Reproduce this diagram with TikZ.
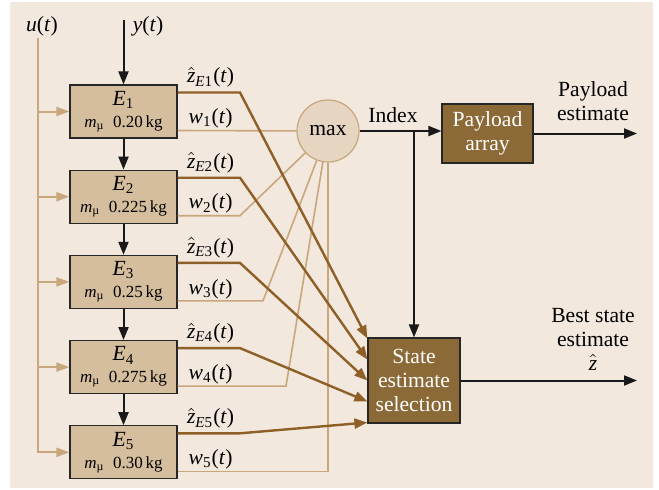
\documentclass[tikz,border=0pt]{standalone}
\usepackage{fontspec}
\setmainfont{Liberation Serif}
\usetikzlibrary{
  arrows.meta,
  positioning,
  calc
}
\definecolor{bgbeige}{HTML}{F2E8DE}
\definecolor{tanfill}{HTML}{D5BE9D}
\definecolor{darkfill}{HTML}{8C6A38}
\definecolor{brownline}{HTML}{8E5F26}
\definecolor{lightline}{HTML}{C9A77D}
\definecolor{maxfill}{HTML}{E6D5C0}
\tikzset{
  estbox/.style={draw=black!85, line width=0.6pt, fill=tanfill,
    minimum width=53.5pt, minimum height=26.5pt,
    inner sep=1pt, align=center},
  darkbox/.style={draw=black!85, line width=0.6pt, fill=darkfill,
    text=white, inner sep=1pt, align=center},
  maxnode/.style={circle, draw=lightline, line width=0.6pt, fill=maxfill,
    minimum size=31pt, inner sep=0pt},
  arr/.style={-{Triangle[length=6.5pt,width=5pt]}, line width=1pt, black!90},
  zarr/.style={-{Triangle[length=6.5pt,width=5pt]}, line width=1.2pt, brownline},
  uarr/.style={-{Triangle[length=6.5pt,width=4.5pt]}, line width=1pt, lightline},
  wline/.style={line width=0.8pt, lightline},
  lbl/.style={inner sep=0pt},
}
\newcommand{\mi}[1]{\textit{#1}}
\newcommand{\mmu}[1]{{\fontsize{8.5}{10}\selectfont \mi{m}\textsubscript{µ}\ \ #1\,kg}}

\begin{document}
\begin{tikzpicture}[x=0.5pt,y=-0.5pt, font=\fontsize{10.8}{12}\selectfont]
  % Background
  \fill[bgbeige] (10,2) rectangle (653,488);
  \useasboundingbox (0,0) rectangle (659,489);

  % Estimator bank
  \node[estbox] (E1) at (123.5,111.5) {\mi{E}\textsubscript{1}\\[-1pt] \mmu{0.20}};
  \node[estbox, below=15.5pt of E1] (E2) {\mi{E}\textsubscript{2}\\[-1pt] \mmu{0.225}};
  \node[estbox, below=15.5pt of E2] (E3) {\mi{E}\textsubscript{3}\\[-1pt] \mmu{0.25}};
  \node[estbox, below=15.5pt of E3] (E4) {\mi{E}\textsubscript{4}\\[-1pt] \mmu{0.275}};
  \node[estbox, below=15.5pt of E4] (E5) {\mi{E}\textsubscript{5}\\[-1pt] \mmu{0.30}};

  \foreach \a/\b in {E1/E2,E2/E3,E3/E4,E4/E5}
    \draw[arr] (\a) -- (\b);

  % Inputs
  \coordinate (ytop) at (123.5,20);
  \node[lbl] (ylab) at (148,26) {\mi{y}(\mi{t})};
  \draw[arr] (ytop) -- (E1);

  \coordinate (utop) at (38,38);
  \node[lbl] (ulab) at (42,26) {\mi{u}(\mi{t})};
  \draw[uarr] (utop) -- (utop |- E5.west) -- (E5.west);
  \foreach \i in {1,...,4}
    \draw[uarr] (utop |- E\i.west) -- (E\i.west);

  % Max and selection blocks
  \node[maxnode] (max) at (328,131) {max};
  \node[darkbox, minimum width=45.5pt, minimum height=29.5pt]
    (pay) at (487.5,133.5) {Payload\\array};
  \node[darkbox, minimum width=46pt, minimum height=42.5pt]
    (sel) at (414,380.5) {State\\estimate\\selection};

  % Estimator outputs
  \foreach \i in {1,...,5} {
    \coordinate (z\i) at ([yshift=9.5pt]E\i.east);
    \coordinate (w\i) at ([yshift=-9.5pt]E\i.east);
    \node[lbl] (zl\i) at ([xshift=16.5pt,yshift=3.5pt]E\i.north east)
      {$\hat{\mi{z}}$\textsubscript{\mi{E}\i}(\mi{t})};
    \node[lbl] (wl\i) at ([xshift=16.5pt,yshift=-3.5pt]E\i.east)
      {\mi{w}\textsubscript{\i}(\mi{t})};
  }

  % Weights to max
  \draw[wline] (w1) -- (max);
  \foreach \i/\bx in {2/240,3/263,4/286} {
    \coordinate (kw\i) at (\bx,0);
    \draw[wline] (w\i) -- (w\i -| kw\i) -- (max);
  }
  \draw[wline] (w5) -- (w5 -| max) -- (max);

  % State estimates to selection
  \coordinate (kz) at (240,0);
  \foreach \i/\s in {1/21,2/10.5,3/0,4/-10.5,5/-21}
    \draw[zarr] (z\i) -- (z\i -| kz) -- ([yshift=\s pt]sel.west);

  % Index path
  \draw[arr] (max.east) -- (max.east -| pay.west);
  \coordinate (jn) at (max.east -| sel.north);
  \draw[arr] (jn) -- (sel.north);
  \node[lbl] (idx) at (393,115) {Index};

  % Outputs
  \coordinate (outx) at (637,0);
  \draw[arr] (pay.east) -- (pay.east -| outx);
  \draw[arr] (sel.east) -- (sel.east -| outx);
  \node[lbl, align=center] (paylab) at (593,101) {Payload\\estimate};
  \node[lbl, align=center] (bestlab) at (593,339)
    {Best state\\estimate\\$\hat{\mi{z}}$};
\end{tikzpicture}
\end{document}
